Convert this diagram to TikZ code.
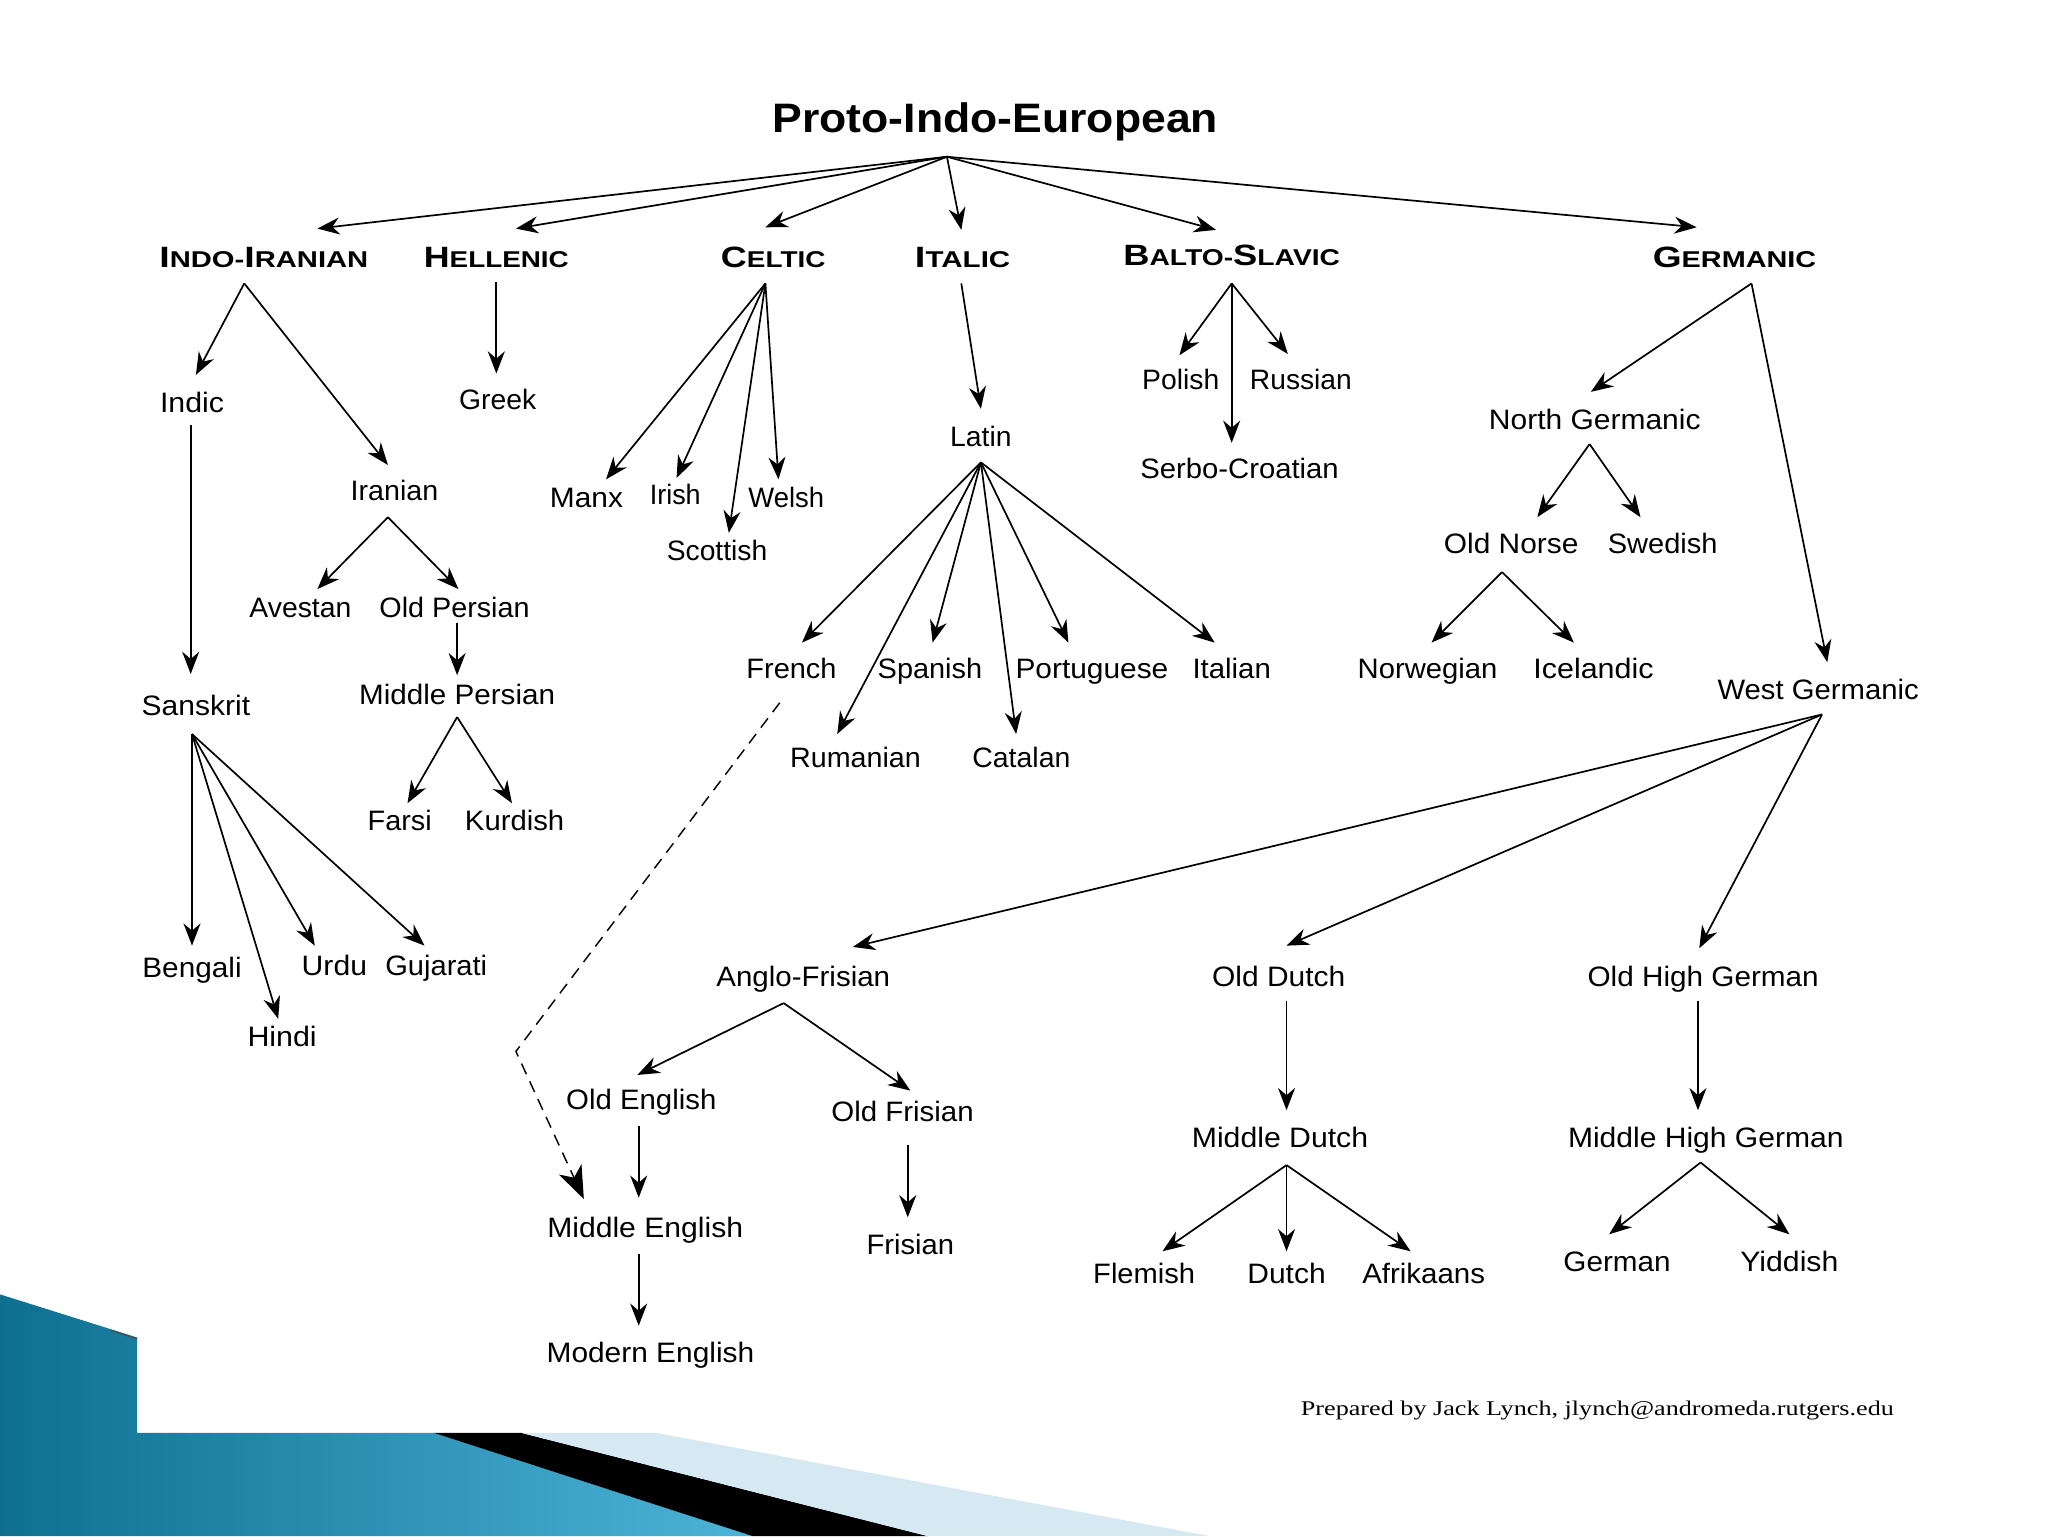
\documentclass[tikz,border=0pt]{standalone}
\usepackage{fontspec}
\setmainfont{Liberation Sans}
\newfontfamily\serifcredit{Liberation Serif}
\usetikzlibrary{arrows.meta,calc}
\definecolor{tealdark}{HTML}{0E6F91}
\definecolor{teallight}{HTML}{4CB4D8}
\definecolor{palecyan}{HTML}{D6E8F2}
\newcommand\lbl[2]{\resizebox{#1pt}{\height}{#2}}
\newcommand\capl[1]{{\fontsize{22.5}{23}\selectfont #1}}
\newcommand\hdr[2]{\resizebox{#1pt}{\height}{\bfseries\fontsize{17.5}{18}\selectfont #2}}
\newcommand\lnk[4]{\draw[arr] ($(#1)+(#2)$) -- ($(#3)+(#4)$);}
\begin{document}
\begin{tikzpicture}[x=1pt,y=-1pt,
  lab/.style={inner sep=0pt,text height=15pt,text depth=0pt,font=\fontsize{21.5}{22}\selectfont},
  hd/.style={inner sep=0pt,text height=16pt,text depth=0pt},
  arr/.style={line width=1.3pt,-{Stealth[length=17pt,width=13pt,inset=5.5pt]}},
  dasharr/.style={line width=1.1pt,dash pattern=on 9pt off 6pt,-{Stealth[length=25pt,width=19pt,inset=7pt]}}]
\fill[white] (0,0) rectangle (1568,1176);
\useasboundingbox (0,0) rectangle (1568,1176);
% slide decoration
\shade[left color=tealdark,right color=teallight] (0,991) -- (105,1024) -- (105,1097) -- (332,1097) -- (576,1176) -- (0,1176) -- cycle;
\draw[black!70,line width=1pt] (85,1018.5) -- (105,1025);
\fill[black] (332,1097) -- (399,1097) -- (710,1176) -- (576,1176) -- cycle;
\fill[palecyan] (399,1097) -- (502,1097) -- (926,1176) -- (710,1176) -- cycle;
% title
\node[inner sep=0pt,text height=22.6pt,text depth=0pt] (pie) at (762,90) {\resizebox{341pt}{\height}{\bfseries\fontsize{31.5}{32}\selectfont Proto-Indo-European}};
% headers
\node[hd] (ii) at (202,197) {\hdr{160}{\capl{I}NDO-\capl{I}RANIAN}};
\node[hd] (hel) at (380,197) {\hdr{111}{\capl{H}ELLENIC}};
\node[hd] (cel) at (592,197) {\hdr{80}{\capl{C}ELTIC}};
\node[hd] (ita) at (737,197) {\hdr{73}{\capl{I}TALIC}};
\node[hd] (bs) at (943,195) {\hdr{166}{\capl{B}ALTO-\capl{S}LAVIC}};
\node[hd] (ger) at (1328,197) {\hdr{125}{\capl{G}ERMANIC}};
% Indo-Iranian
\node[lab] (indic) at (147,308) {\lbl{49}{Indic}};
\node[lab] (iran) at (302,376) {\lbl{67}{Iranian}};
\node[lab] (sans) at (150,540) {\lbl{83}{Sanskrit}};
\node[lab] (aves) at (230,465) {\lbl{78}{Avestan}};
\node[lab] (opers) at (348,465) {\lbl{115}{Old Persian}};
\node[lab] (mpers) at (350,532) {\lbl{150}{Middle Persian}};
\node[lab] (farsi) at (306,628) {\lbl{49}{Farsi}};
\node[lab] (kurd) at (394,628) {\lbl{76}{Kurdish}};
\node[lab] (beng) at (147,741) {\lbl{76}{Bengali}};
\node[lab] (hindi) at (216,794) {\lbl{53}{Hindi}};
\node[lab] (urdu) at (256,739) {\lbl{50}{Urdu}};
\node[lab] (guj) at (334,739) {\lbl{78}{Gujarati}};
% Hellenic
\node[lab] (greek) at (381,306) {\lbl{59}{Greek}};
% Celtic
\node[lab] (manx) at (449,381) {\lbl{56}{Manx}};
\node[lab] (irish) at (517,379) {\lbl{39}{Irish}};
\node[lab] (welsh) at (602,381) {\lbl{58}{Welsh}};
\node[lab] (scot) at (549,422) {\lbl{77}{Scottish}};
% Italic
\node[lab] (latin) at (751,334) {\lbl{47}{Latin}};
\node[lab] (french) at (606,512) {\lbl{69}{French}};
\node[lab] (spanish) at (712,512) {\lbl{80}{Spanish}};
\node[lab] (port) at (836,512) {\lbl{117}{Portuguese}};
\node[lab] (ital) at (943,512) {\lbl{60}{Italian}};
\node[lab] (rum) at (655,580) {\lbl{100}{Rumanian}};
\node[lab] (cat) at (782,580) {\lbl{75}{Catalan}};
% Balto-Slavic
\node[lab] (polish) at (904,291) {\lbl{59}{Polish}};
\node[lab] (russ) at (996,291) {\lbl{78}{Russian}};
\node[lab] (serbo) at (949,359) {\lbl{152}{Serbo-Croatian}};
% Germanic
\node[lab] (ng) at (1221,321) {\lbl{162}{North Germanic}};
\node[lab] (wg) at (1392,528) {\lbl{154}{West Germanic}};
\node[lab] (onorse) at (1157,416) {\lbl{103}{Old Norse}};
\node[lab] (swed) at (1273,416) {\lbl{84}{Swedish}};
\node[lab] (norw) at (1093,512) {\lbl{107}{Norwegian}};
\node[lab] (icel) at (1220,512) {\lbl{92}{Icelandic}};
\node[lab] (af) at (615,748) {\lbl{133}{Anglo-Frisian}};
\node[lab] (odutch) at (979,748) {\lbl{102}{Old Dutch}};
\node[lab] (ohg) at (1304,748) {\lbl{177}{Old High German}};
\node[lab] (oe) at (491,842) {\lbl{115}{Old English}};
\node[lab] (ofris) at (691,851) {\lbl{109}{Old Frisian}};
\node[lab] (me) at (494,940) {\lbl{150}{Middle English}};
\node[lab] (mode) at (498,1036) {\lbl{159}{Modern English}};
\node[lab] (fris) at (697,953) {\lbl{67}{Frisian}};
\node[lab] (mdutch) at (980,871) {\lbl{135}{Middle Dutch}};
\node[lab] (flem) at (876,975) {\lbl{78}{Flemish}};
\node[lab] (dutch) at (985,975) {\lbl{60}{Dutch}};
\node[lab] (afr) at (1090,975) {\lbl{94}{Afrikaans}};
\node[lab] (mhg) at (1306,871) {\lbl{211}{Middle High German}};
\node[lab] (german) at (1238,966) {\lbl{82}{German}};
\node[lab] (yidd) at (1370,966) {\lbl{75}{Yiddish}};
% credit
\node[inner sep=0pt,text height=11pt,text depth=0pt] (credit) at (1223,1078) {\resizebox{454pt}{\height}{\serifcredit\fontsize{16}{17}\selectfont Prepared by Jack Lynch, jlynch@andromeda.rutgers.edu}};
% connectors from PIE
\lnk{pie}{-37,30}{ii}{41,-22}
\lnk{pie}{-37,30}{hel}{15,-22}
\lnk{pie}{-37,30}{cel}{-6,-23}
\lnk{pie}{-37,30}{ita}{-1,-21}
\lnk{pie}{-37,30}{bs}{-12,-19}
\lnk{pie}{-37,30}{ger}{-29,-23}
% Indo-Iranian
\lnk{ii}{-15,20}{indic}{3,-21}
\lnk{ii}{-15,20}{iran}{-5,-20}
\lnk{indic}{-1,17}{sans}{-4,-24}
\lnk{iran}{-5,20}{aves}{13,-14}
\lnk{iran}{-5,20}{opers}{3,-14}
\lnk{opers}{2,12}{mpers}{0,-15}
\lnk{mpers}{0,17}{farsi}{6,-13}
\lnk{mpers}{0,17}{kurd}{-2,-13}
\lnk{sans}{-3,22}{beng}{0,-17}
\lnk{sans}{-3,22}{hindi}{-3,-14}
\lnk{sans}{-3,22}{urdu}{-15,-15}
\lnk{sans}{-3,22}{guj}{-9,-15}
% Hellenic
\lnk{hel}{0,19}{greek}{-1,-20}
% Celtic
\lnk{cel}{-6,20}{manx}{15,-14}
\lnk{cel}{-6,20}{irish}{1,-13}
\lnk{cel}{-6,20}{scot}{9,-14}
\lnk{cel}{-6,20}{welsh}{-6,-14}
% Italic
\lnk{ita}{-1,20}{latin}{0,-21}
\lnk{latin}{0,20}{french}{8,-20}
\lnk{latin}{0,20}{spanish}{2,-20}
\lnk{latin}{0,20}{port}{-18,-20}
\lnk{latin}{0,20}{ital}{-13,-20}
\lnk{latin}{0,20}{rum}{-14,-18}
\lnk{latin}{0,20}{cat}{-4,-18}
% Balto-Slavic
\lnk{bs}{0,22}{polish}{-1,-19}
\lnk{bs}{0,22}{russ}{-10,-20}
\lnk{bs}{0,22}{serbo}{-6,-20}
% Germanic
\lnk{ger}{13,20}{ng}{-3,-21}
\lnk{ger}{13,20}{wg}{7,-21}
\lnk{ng}{-4,19}{onorse}{20,-20}
\lnk{ng}{-4,19}{swed}{-17,-20}
\lnk{onorse}{-7,22}{norw}{3,-20}
\lnk{onorse}{-7,22}{icel}{-15,-20}
\lnk{wg}{3,19}{af}{38,-23}
\lnk{wg}{3,19}{odutch}{6,-24}
\lnk{wg}{3,19}{ohg}{-3,-22}
\lnk{af}{-15,20}{oe}{-3,-19}
\lnk{af}{-15,20}{ofris}{6,-16}
\lnk{oe}{-2,20}{me}{-5,-23}
\lnk{me}{-5,20}{mode}{-9,-21}
\lnk{ofris}{4,26}{fris}{-2,-21}
\lnk{odutch}{6,18}{mdutch}{5,-21}
\lnk{mdutch}{5,21}{flem}{14,-17}
\lnk{mdutch}{5,21}{dutch}{0,-17}
\lnk{mdutch}{5,21}{afr}{-10,-17}
\lnk{ohg}{-4,18}{mhg}{-6,-21}
\lnk{mhg}{-4,19}{german}{-6,-21}
\lnk{mhg}{-4,19}{yidd}{0,-21}
% dashed French -> Middle English
\coordinate (bend) at (395,805);
\draw[dasharr] ($(french)+(-9,26)$) -- (bend) -- ($(me)+(-47,-22)$);
\end{tikzpicture}
\end{document}
